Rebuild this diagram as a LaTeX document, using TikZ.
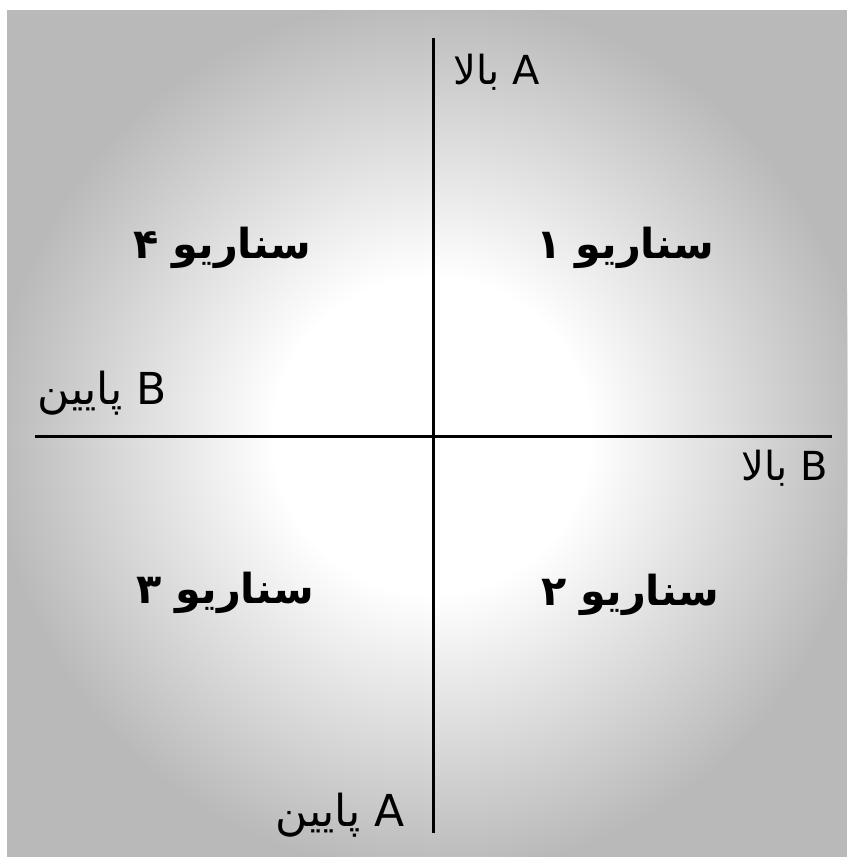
\documentclass[tikz,border=0pt]{standalone}
\usepackage{fontspec}
\newfontfamily\arabicfont[Script=Arabic]{DejaVu Sans}
\TeXXeTstate=1
\definecolor{bg}{RGB}{185,185,185}
\begin{document}
\begin{tikzpicture}[x=0.75pt,y=-0.75pt,
  axis/.style={line width=2.25pt,black},
  lbl/.style={font=\arabicfont\fontsize{30}{34}\selectfont,inner sep=0pt},
  lblw/.style={font=\arabicfont\fontsize{33}{37}\selectfont,inner sep=0pt},
  scen/.style={font=\arabicfont\bfseries\fontsize{31}{36}\selectfont,inner sep=0pt}]
\useasboundingbox (0,0) rectangle (847,857);
\fill[white] (0,0) rectangle (847,857);
\begin{scope}
\clip (7,10) rectangle (847,857);
\fill[bg] (7,10) rectangle (847,857);
\foreach \r in {440,436,...,148} {
  \pgfmathsetmacro\p{min(100,(440-\r)/2.8)}
  \fill[white!\p!bg] (432,436) circle (\r);
}
\end{scope}
\coordinate (top) at (433,38);
\coordinate (bot) at (433,833);
\coordinate (lft) at (35,436);
\coordinate (rgt) at (832,436);
\draw[axis] (top) -- (bot);
\draw[axis] (lft) -- (rgt);
\node[lbl] (au) at (497,72) {\beginR A بالا\endR};
\node[lblw] (bd) at (102,393) {\beginR B پایین\endR};
\node[lbl] (bu) at (785,468) {\beginR B بالا\endR};
\node[lblw] (ad) at (340,815) {\beginR A پایین\endR};
\node[scen] (s4) at (222,248) {\beginR سناریو ۴\endR};
\node[scen] (s1) at (625,248) {\beginR سناریو ۱\endR};
\node[scen] (s3) at (225,593) {\beginR سناریو ۳\endR};
\node[scen] (s2) at (630,595) {\beginR سناریو ۲\endR};
\end{tikzpicture}
\end{document}
